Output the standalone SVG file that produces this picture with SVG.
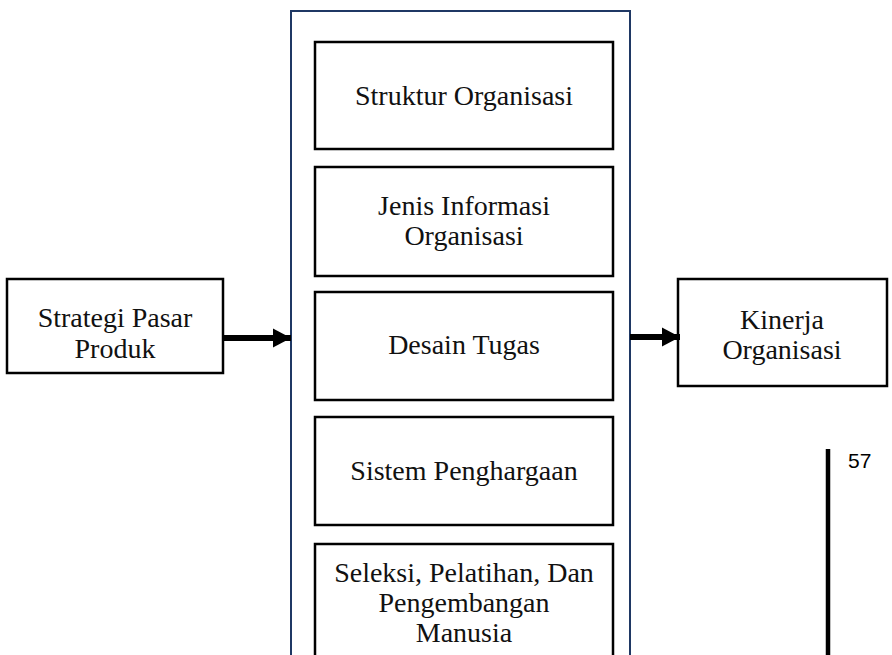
<svg xmlns="http://www.w3.org/2000/svg" width="892" height="655" viewBox="0 0 892 655">
  <style>
    .box { fill: #ffffff; stroke: #000000; stroke-width: 2.5; }
    .frame { fill: #ffffff; stroke: #1f3864; stroke-width: 2; }
    .lbl { font-family: "Liberation Serif", "DejaVu Serif", serif; font-size: 28px; fill: #111111; text-anchor: middle; }
    .arrow { stroke: #000000; stroke-width: 6; fill: none; }
    .pg { font-family: "Liberation Sans", Arial, sans-serif; font-size: 21px; fill: #000000; }
  </style>
  <defs>
    <marker id="head" viewBox="0 0 10 10" refX="10" refY="5" markerWidth="3" markerHeight="3.2" orient="auto" markerUnits="strokeWidth" preserveAspectRatio="none">
      <path d="M0,0 L10,5 L0,10 Z" fill="#000000"/>
    </marker>
  </defs>

  <!-- central frame holding the five factors -->
  <g id="frame">
    <rect class="frame" x="291" y="11" width="339" height="660"/>
  </g>

  <g id="struktur">
    <rect class="box" x="315" y="42" width="298" height="107"/>
    <text class="lbl" x="464" y="105">Struktur Organisasi</text>
  </g>

  <g id="jenis">
    <rect class="box" x="315" y="167" width="298" height="109"/>
    <text class="lbl" x="464" y="215">Jenis Informasi</text>
    <text class="lbl" x="464" y="245">Organisasi</text>
  </g>

  <g id="desain">
    <rect class="box" x="315" y="292" width="298" height="108"/>
    <text class="lbl" x="464" y="354">Desain Tugas</text>
  </g>

  <g id="sistem">
    <rect class="box" x="315" y="417" width="298" height="108"/>
    <text class="lbl" x="464" y="480">Sistem Penghargaan</text>
  </g>

  <g id="seleksi">
    <rect class="box" x="315" y="544" width="298" height="130"/>
    <text class="lbl" x="464" y="582">Seleksi, Pelatihan, Dan</text>
    <text class="lbl" x="464" y="612">Pengembangan</text>
    <text class="lbl" x="464" y="642">Manusia</text>
  </g>

  <g id="strategi">
    <rect class="box" x="7" y="279" width="216" height="94"/>
    <text class="lbl" x="115" y="327">Strategi Pasar</text>
    <text class="lbl" x="115" y="358">Produk</text>
  </g>

  <g id="kinerja">
    <rect class="box" x="678" y="279" width="209" height="107"/>
    <text class="lbl" x="782" y="329">Kinerja</text>
    <text class="lbl" x="782" y="359">Organisasi</text>
  </g>

  <g id="connectors">
    <line class="arrow" x1="223" y1="338" x2="291" y2="338" marker-end="url(#head)"/>
    <line class="arrow" x1="630" y1="337" x2="680" y2="337" marker-end="url(#head)"/>
  </g>

  <!-- page margin rule and page number -->
  <line x1="828" y1="449" x2="828" y2="655" stroke="#000000" stroke-width="4.5"/>
  <text class="pg" x="848" y="468">57</text>
</svg>
